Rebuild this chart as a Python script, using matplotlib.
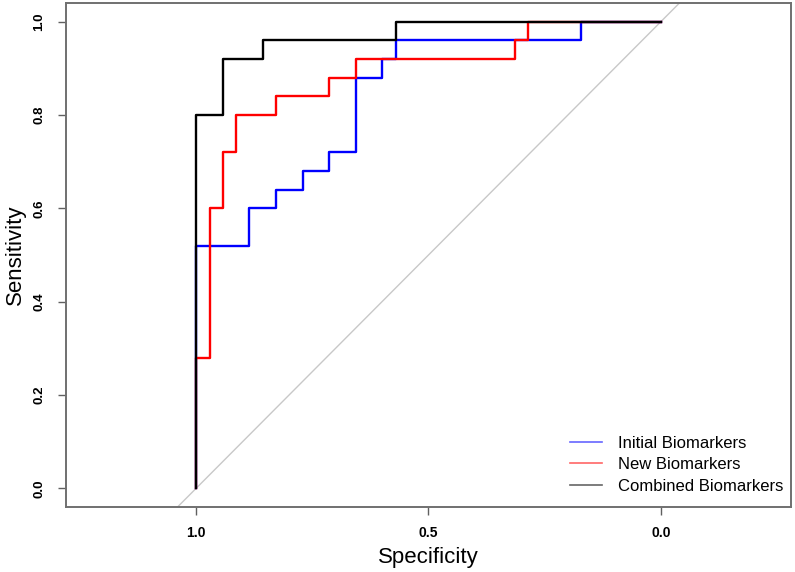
import numpy as np
import matplotlib
matplotlib.use("Agg")
import matplotlib.pyplot as plt
from matplotlib.lines import Line2D

plt.rcParams['font.family'] = ['Liberation Sans', 'DejaVu Sans']

# ROC step curves (specificity, sensitivity)
init_spec = [1.0, 0.886, 0.829, 0.771, 0.714, 0.657, 0.600, 0.571, 0.171, 0.0]
init_sens = [0.0, 0.52, 0.60, 0.64, 0.68, 0.72, 0.88, 0.92, 0.96, 1.0]

new_spec = [1.0, 0.971, 0.943, 0.914, 0.829, 0.714, 0.657, 0.314, 0.286, 0.0]
new_sens = [0.0, 0.28, 0.60, 0.72, 0.80, 0.84, 0.88, 0.92, 0.96, 1.0]

comb_spec = [1.0, 0.943, 0.857, 0.571, 0.0]
comb_sens = [0.0, 0.80, 0.92, 0.96, 1.0]

labels = ['Initial Biomarkers', 'New Biomarkers', 'Combined Biomarkers']
colors = ['blue', 'red', 'black']

fig = plt.figure(figsize=(7.95, 5.72), dpi=100)
ax = fig.add_axes([66 / 795, 1 - 507 / 572, (791 - 66) / 795, (507 - 3) / 572])

# chance diagonal
ax.axline((1, 0), (0, 1), color='#c8c8c8', lw=1.0, zorder=1)

for sp, se, c in zip([init_spec, new_spec, comb_spec],
                     [init_sens, new_sens, comb_sens], colors):
    ax.plot(sp, se, drawstyle='steps-pre', color=c, lw=1.7, zorder=2)

ax.set_xlim(1.28, -0.28)
ax.set_ylim(-0.04, 1.04)

ax.set_xticks([1.0, 0.5, 0.0])
ax.set_xticklabels(['1.0', '0.5', '0.0'], fontweight='bold', fontsize=10)
ax.set_yticks([0.0, 0.2, 0.4, 0.6, 0.8, 1.0])
ax.set_yticklabels(['0.0', '0.2', '0.4', '0.6', '0.8', '1.0'],
                   fontweight='bold', fontsize=9.5, rotation=90, va='center')
ax.tick_params(axis='x', length=6, width=1, color='#606060', pad=8)
ax.tick_params(axis='y', length=6, width=1, color='#606060', pad=9)

for s in ax.spines.values():
    s.set_color('#707070')
    s.set_linewidth(1.4)

ax.set_xlabel('Specificity', fontsize=16, labelpad=5)
ax.set_ylabel('Sensitivity', fontsize=16, labelpad=5)

handles = [Line2D([0], [0], color=c, lw=1.2, alpha=0.6) for c in colors]
ax.legend(handles, labels, loc='lower right', bbox_to_anchor=(0.99, 0.026),
          frameon=False, fontsize=12, borderpad=0, borderaxespad=0,
          handlelength=1.9, handletextpad=1.0, labelspacing=0.4)

fig.savefig('out.png', dpi=100)
